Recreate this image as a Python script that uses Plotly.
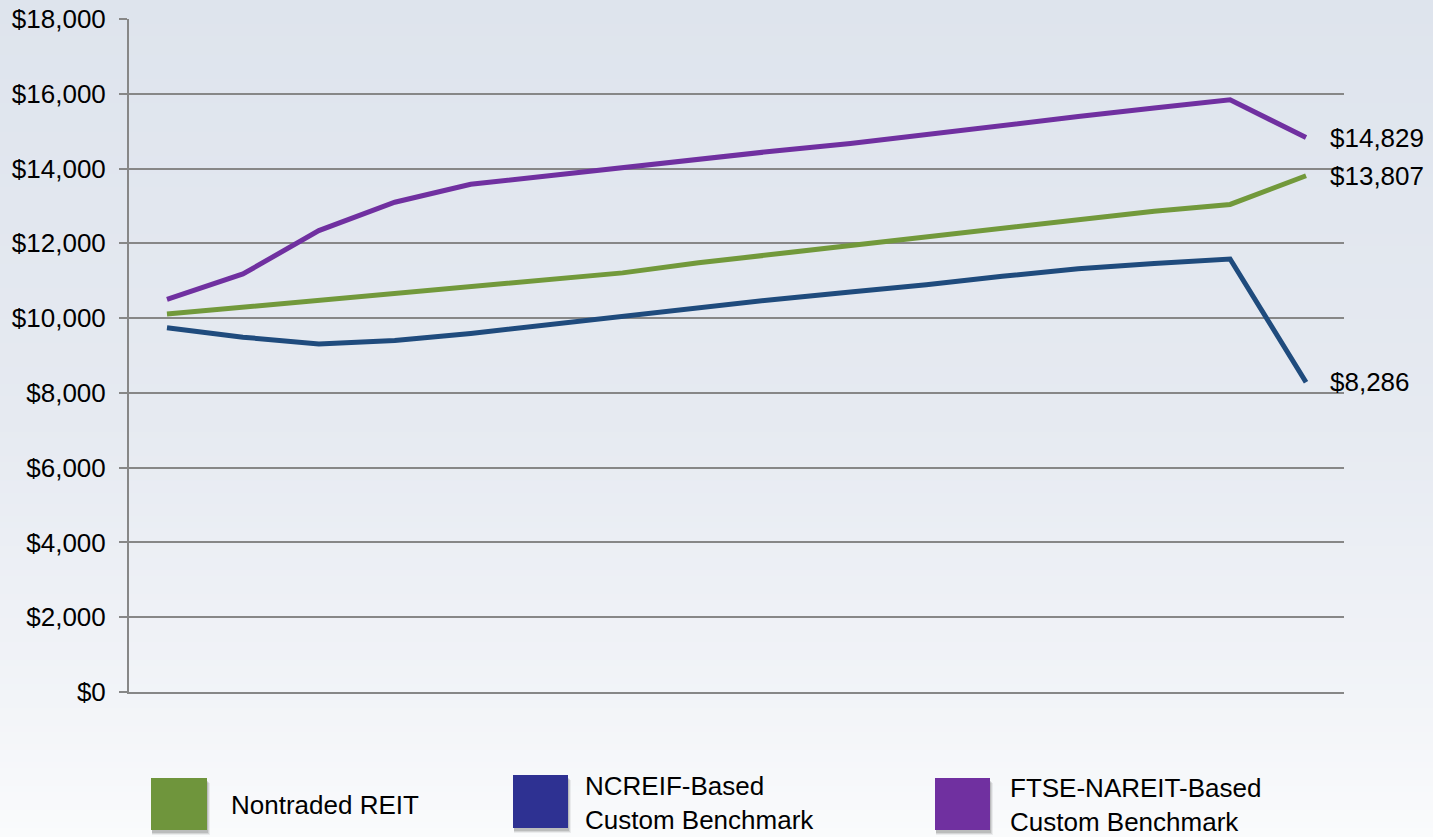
import plotly.graph_objects as go

# Growth of a $10,000 investment, 16 periods
periods = list(range(1, 17))

nontraded_reit = [10110, 10290, 10470, 10650, 10840, 11030, 11210, 11480,
                  11710, 11920, 12160, 12400, 12640, 12860, 13040, 13807]
ncreif_benchmark = [9740, 9490, 9310, 9400, 9590, 9820, 10060, 10280,
                    10500, 10700, 10890, 11120, 11320, 11460, 11580, 8286]
ftse_nareit_benchmark = [10500, 11180, 12340, 13100, 13580, 13810, 14020, 14270,
                         14470, 14670, 14920, 15160, 15390, 15620, 15840, 14829]

series_names = ["Nontraded REIT", "NCREIF-Based<br>Custom Benchmark",
                "FTSE-NAREIT-Based<br>Custom Benchmark"]
y_ticks = [0, 2000, 4000, 6000, 8000, 10000, 12000, 14000, 16000, 18000]

W, H = 1433, 837
L, R, T, B = 129, 89, 18.5, 145
plot_w = W - L - R
plot_h = H - T - B

line_colors = ["#72993b", "#1f4b7d", "#7030a0"]
swatch_colors = ["#6f953c", "#2e3192", "#7030a0"]
FONT = "Arial, Liberation Sans, sans-serif"


def px_to_paper_x(px):
    return (px - L) / plot_w


def px_to_paper_y(py):
    return (H - B - py) / plot_h


fig = go.Figure()

for vals, color in zip([nontraded_reit, ncreif_benchmark, ftse_nareit_benchmark], line_colors):
    fig.add_trace(go.Scatter(x=periods, y=vals, mode="lines",
                             line=dict(color=color, width=5),
                             showlegend=False, hoverinfo="skip", cliponaxis=False))

# End-of-period value labels
for vals in [ftse_nareit_benchmark, nontraded_reit, ncreif_benchmark]:
    fig.add_annotation(x=periods[-1], y=vals[-1], xref="x", yref="y",
                       text=f"${vals[-1]:,}",
                       showarrow=False, xanchor="left", yanchor="middle",
                       xshift=22, font=dict(family=FONT, size=26, color="#000000"))

shapes = []

# Vertical background gradient
def lerp(c1, c2, t):
    return tuple(round(a + (b - a) * t) for a, b in zip(c1, c2))

stops = [(0, (222, 228, 237)), (420, (230, 234, 241)), (700, (242, 244, 248)), (837, (250, 251, 252))]
step = 6
for y0 in range(0, H, step):
    yc = y0 + step / 2
    for (ya, ca), (yb, cb) in zip(stops[:-1], stops[1:]):
        if ya <= yc <= yb:
            c = lerp(ca, cb, (yc - ya) / (yb - ya))
            break
    else:
        c = stops[-1][1]
    shapes.append(dict(type="rect", xref="paper", yref="paper", layer="below",
                       x0=px_to_paper_x(-2), x1=px_to_paper_x(W + 2),
                       y0=px_to_paper_y(min(y0 + step + 1, H + 2)), y1=px_to_paper_y(y0 - (2 if y0 == 0 else 0)),
                       line=dict(width=0), fillcolor=f"rgb{c}"))

# Legend swatches with soft shadows
swatches = [(151, 778, 207, 830), (513, 775, 568, 828), (935, 778, 990, 830)]
for (x0, y0, x1, y1), col in zip(swatches, swatch_colors):
    for off, alpha in [(5, 0.06), (4, 0.09), (3, 0.12)]:
        shapes.append(dict(type="rect", xref="paper", yref="paper",
                           x0=px_to_paper_x(x0 + 1), x1=px_to_paper_x(x1 + off - 2),
                           y0=px_to_paper_y(y1 + off), y1=px_to_paper_y(y0 + off),
                           line=dict(width=0), fillcolor=f"rgba(0,0,0,{alpha})"))
    shapes.append(dict(type="rect", xref="paper", yref="paper",
                       x0=px_to_paper_x(x0), x1=px_to_paper_x(x1),
                       y0=px_to_paper_y(y1), y1=px_to_paper_y(y0),
                       line=dict(width=0), fillcolor=col))

# Legend labels
label_pos = [(229, 805), (583, 803), (1008, 805)]
for (lx, ly), name in zip(label_pos, series_names):
    fig.add_annotation(xref="paper", yref="paper", x=px_to_paper_x(lx), y=px_to_paper_y(ly),
                       text=name, showarrow=False, xanchor="left", yanchor="middle",
                       align="left", font=dict(family=FONT, size=26, color="#000000"))

fig.update_layout(
    width=W, height=H,
    margin=dict(l=L, r=R, t=T, b=B, pad=0, autoexpand=False),
    paper_bgcolor="rgb(230,234,241)",
    plot_bgcolor="rgba(0,0,0,0)",
    shapes=shapes,
    font=dict(family=FONT, size=26, color="#000000"),
    xaxis=dict(range=[0.5, 16.5], showgrid=False, zeroline=False, automargin=False,
               showticklabels=False, ticks="", showline=True, linecolor="#878787",
               linewidth=2),
    yaxis=dict(range=[0, 18000], tickvals=y_ticks, automargin=False,
               ticktext=[f"${v:,}" for v in y_ticks],
               showgrid=True, gridcolor="#878787", gridwidth=2,
               zeroline=False, showline=True, linecolor="#878787", linewidth=2,
               ticks="outside", ticklen=8, tickwidth=2, tickcolor="#878787",
               ticklabelstandoff=8,
               tickfont=dict(family=FONT, size=26, color="#000000")),
)

fig.write_html("out.html")
